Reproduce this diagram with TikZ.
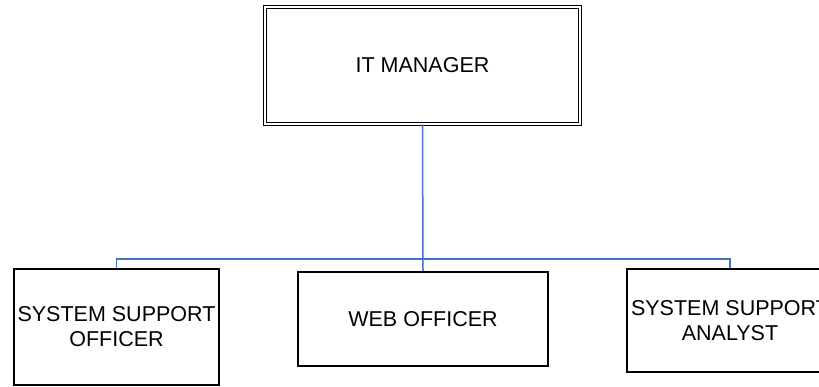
\documentclass[tikz,border=0pt]{standalone}
\usepackage{fontspec}
\setmainfont{Liberation Sans}
\begin{document}
\begin{tikzpicture}[x=1pt,y=-1pt,
  box/.style={draw=black, line width=1.6pt, inner sep=0pt, align=center,
    font=\fontsize{21.5}{25}\selectfont},
  conn/.style={draw={rgb,255:red,68;green,114;blue,196}, line width=1.5pt}]
\useasboundingbox (0,0) rectangle (819,386);
\clip (0,0) rectangle (819,386);
\node[box, line width=1.3pt, double, double distance=2pt,
  minimum width=315pt, minimum height=117pt] (boss) at (422.5,65.5) {IT MANAGER};
\node[box, minimum width=205pt, minimum height=116pt] (sso) at (116.5,327) {SYSTEM SUPPORT\\OFFICER};
\node[box, minimum width=250pt, minimum height=94pt] (web) at (423,319) {WEB OFFICER};
\node[box, minimum width=206pt, minimum height=103pt] (ssa) at (730,320.5) {SYSTEM SUPPORT\\ANALYST};
\coordinate (bar) at (423,259);
\draw[conn] (boss.south) -- (web.north);
\draw[conn] (sso.north) |- (bar) -| (ssa.north);
\end{tikzpicture}
\end{document}
